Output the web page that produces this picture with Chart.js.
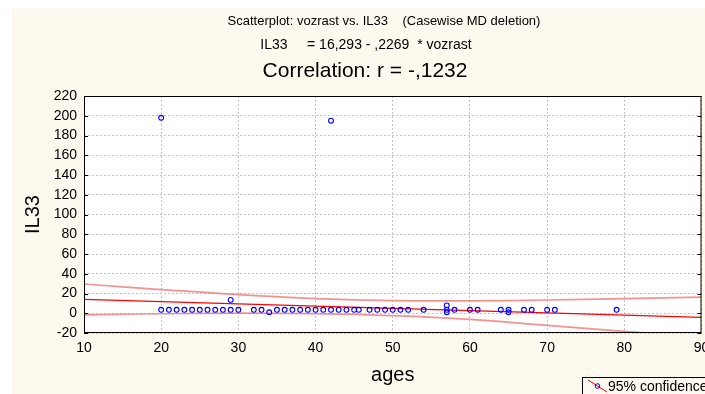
<!DOCTYPE html>
<html>
<head>
<meta charset="utf-8">
<script src="https://cdn.jsdelivr.net/npm/chart.js@4/dist/chart.umd.min.js"></script>
<style>
  html, body { margin: 0; padding: 0; background: #ffffff; }
  #wrap { position: relative; width: 705px; height: 394px; }
</style>
</head>
<body>
<div id="wrap"><canvas id="chart" width="705" height="394"></canvas></div>
<script>
// --- data ------------------------------------------------------------
const ages = [20, 20, 21, 22, 23, 24, 25, 26, 27, 28, 29, 29, 30, 32, 33, 34, 35, 36, 37, 38,
  39, 40, 41, 42, 42, 43, 44, 45, 45.6, 47, 48, 49, 50, 51, 52, 54, 57, 57, 57, 58,
  60, 61, 64, 65, 65, 67, 68, 70, 71, 79];
const il33 = [3.5, 198, 3.5, 3.5, 3.5, 3.5, 3.5, 3.5, 3.5, 3.5, 3.5, 13.5, 3.5, 3.5, 3.5, 1, 3.5, 3.5, 3.5, 3.5,
  3.5, 3.5, 3.5, 3.5, 195, 3.5, 3.5, 3.5, 3.5, 3.5, 3.5, 3.5, 3.5, 3.5, 3.5, 3.5, 8, 3.5, 1, 3.5,
  3.5, 3.5, 3.5, 3.5, 1, 3.5, 3.5, 3.5, 3.5, 3.5];

const fitX = [10, 90];
const fitY = [14.0, -4.1];

const bandX = [10, 20, 30, 40, 50, 60, 70, 80, 90];
const bandUpper = [29.6, 24.0, 18.8, 14.9, 12.8, 12.6, 13.4, 14.8, 16.4];
const bandLower = [-1.6, -0.5, 0.2, -0.4, -2.5, -6.3, -12.3, -18.3, -24.2];

const xTicks = [10, 20, 30, 40, 50, 60, 70, 80, 90];
const yTicks = [-20, 0, 20, 40, 60, 80, 100, 120, 140, 160, 180, 200, 220];

const titleLines = [
  'Scatterplot: vozrast vs. IL33    (Casewise MD deletion)',
  'IL33     = 16,293 - ,2269  * vozrast',
  'Correlation: r = -,1232'
];
const xTitle = 'ages';
const yTitle = 'IL33';
const legendText = '95% confidence';

const FONT = '"Liberation Sans", Arial, sans-serif';
const CREAM = '#fdf9ee';

const toPts = (xs, ys) => xs.map((x, i) => ({ x, y: ys[i] }));

// background, frame, header text and the cut-off legend
const decor = {
  id: 'decor',
  beforeDraw(chart) {
    const { ctx, chartArea: a } = chart;
    ctx.save();
    ctx.fillStyle = '#ffffff';
    ctx.fillRect(0, 0, chart.width, chart.height);
    ctx.fillStyle = CREAM;
    ctx.fillRect(12, 8, chart.width - 12, chart.height - 8);
    ctx.fillStyle = '#ffffff';
    ctx.fillRect(a.left, a.top, a.right - a.left, a.bottom - a.top);
    ctx.restore();
  },
  afterDraw(chart) {
    const { ctx, chartArea: a, scales } = chart;
    ctx.save();
    // frame
    ctx.strokeStyle = '#000';
    ctx.lineWidth = 1;
    ctx.strokeRect(a.left + 0.5, a.top + 0.5, a.right - a.left - 1, a.bottom - a.top - 1);
    // small inward ticks on left and right
    ctx.beginPath();
    yTicks.forEach(v => {
      const py = Math.round(scales.y.getPixelForValue(v)) + 0.5;
      ctx.moveTo(a.left, py); ctx.lineTo(a.left + 4, py);
      ctx.moveTo(a.right, py); ctx.lineTo(a.right - 4, py);
    });
    ctx.stroke();

    // header
    ctx.fillStyle = '#000';
    ctx.textAlign = 'center';
    ctx.textBaseline = 'middle';
    ctx.font = `13px ${FONT}`;
    ctx.fillText(titleLines[0], 384, 21);
    ctx.font = `14px ${FONT}`;
    ctx.fillText(titleLines[1], 366, 45);
    ctx.font = `21px ${FONT}`;
    ctx.fillText(titleLines[2], 365, 71);

    // axis titles
    ctx.font = `20px ${FONT}`;
    ctx.fillText(xTitle, (a.left + a.right) / 2, 375);
    ctx.save();
    ctx.translate(33, (a.top + a.bottom) / 2);
    ctx.rotate(-Math.PI / 2);
    ctx.fillText(yTitle, 0, 0);
    ctx.restore();

    // legend box (runs off the right edge)
    const lx = 582.5, ly = 377.5;
    ctx.fillStyle = CREAM;
    ctx.fillRect(lx, ly, 200, 30);
    ctx.strokeStyle = '#000';
    ctx.strokeRect(lx, ly, 200, 30);
    ctx.strokeStyle = '#ff0000';
    ctx.beginPath();
    ctx.moveTo(588, 380); ctx.lineTo(607, 392);
    ctx.stroke();
    ctx.strokeStyle = '#0000ff';
    ctx.beginPath();
    ctx.arc(597.5, 386, 2.3, 0, Math.PI * 2);
    ctx.stroke();
    ctx.fillStyle = '#000';
    ctx.textAlign = 'left';
    ctx.font = `14px ${FONT}`;
    ctx.fillText(legendText, 608, 387);
    ctx.restore();
  }
};

new Chart(document.getElementById('chart'), {
  type: 'scatter',
  data: {
    datasets: [
      {
        label: 'IL33',
        data: toPts(ages, il33),
        pointStyle: 'circle',
        pointRadius: 2.4,
        pointHoverRadius: 2.4,
        borderColor: '#0000ff',
        backgroundColor: 'rgba(0,0,0,0)',
        borderWidth: 1.1,
        showLine: false,
      },
      {
        label: 'fit',
        data: toPts(fitX, fitY),
        showLine: true,
        borderColor: '#ff0000',
        borderWidth: 1.3,
        pointRadius: 0,
        fill: false,
      },
      {
        label: 'upper',
        data: toPts(bandX, bandUpper),
        showLine: true,
        tension: 0.4,
        borderColor: 'rgba(240,110,110,0.75)',
        borderWidth: 1.7,
        pointRadius: 0,
        fill: false,
      },
      {
        label: 'lower',
        data: toPts(bandX, bandLower),
        showLine: true,
        tension: 0.4,
        borderColor: 'rgba(240,110,110,0.75)',
        borderWidth: 1.7,
        pointRadius: 0,
        fill: false,
      }
    ]
  },
  options: {
    responsive: false,
    animation: false,
    events: [],
    layout: { padding: { top: 96, left: 0, right: 1, bottom: 41 } },
    plugins: {
      legend: { display: false },
      tooltip: { enabled: false },
      title: { display: false }
    },
    scales: {
      x: {
        type: 'linear',
        min: 10, max: 90,
        afterFit: s => { s.height = 20; s.paddingLeft = 0; s.paddingRight = 0; },
        afterBuildTicks: s => { s.ticks = xTicks.map(v => ({ value: v })); },
        grid: { color: '#c4c4c4', drawTicks: false },
        border: { display: false, dash: [2, 2] },
        ticks: { color: '#000', padding: 7, autoSkip: false, maxRotation: 0, font: { family: FONT, size: 14 } }
      },
      y: {
        type: 'linear',
        min: -20, max: 220,
        afterFit: s => { s.width = 84; s.paddingTop = 0; s.paddingBottom = 0; },
        afterBuildTicks: s => { s.ticks = yTicks.map(v => ({ value: v })); },
        grid: { color: '#c4c4c4', drawTicks: false },
        border: { display: false, dash: [2, 2] },
        ticks: { color: '#000', padding: 7, autoSkip: false, font: { family: FONT, size: 14 } }
      }
    }
  },
  plugins: [decor]
});
</script>
</body>
</html>
